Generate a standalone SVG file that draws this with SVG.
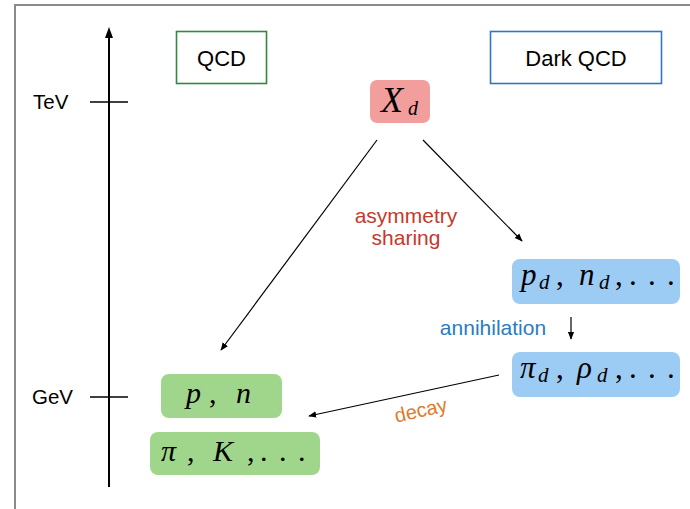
<svg xmlns="http://www.w3.org/2000/svg" width="690" height="509" viewBox="0 0 690 509">
<defs>
<marker id="ah" viewBox="0 0 10 10" refX="9" refY="5" markerWidth="8" markerHeight="8" orient="auto" markerUnits="userSpaceOnUse">
<path d="M0,1 L10,5 L0,9 Z" fill="#000"/>
</marker>
<style>
.sans{font-family:"Liberation Sans",Arial,sans-serif;}
.math{font-family:"Liberation Serif","Times New Roman",serif;font-style:italic;}
.mr{font-style:normal;}
.sub{font-size:21px;}
.conn{stroke:#000;stroke-width:1.2;fill:none;}
</style>
</defs>
<rect x="0" y="0" width="690" height="509" fill="#fff"/>
<path d="M15,509 L15,5 L690,5" fill="none" stroke="#8a8a8a" stroke-width="2"/>
<g id="axis">
<line x1="109" y1="487" x2="109" y2="30" stroke="#000" stroke-width="2"/>
<path d="M105,38 L109,27 L113,38 Z" fill="#000"/>
<line x1="90" y1="102" x2="128" y2="102" stroke="#000" stroke-width="1.6"/>
<line x1="90" y1="397" x2="128" y2="397" stroke="#000" stroke-width="1.6"/>
<text class="sans" x="33" y="109" font-size="20.5">TeV</text>
<text class="sans" x="32" y="404" font-size="20.5">GeV</text>
</g>
<g id="qcd">
<rect x="176.5" y="31.5" width="90" height="52" fill="#fff" stroke="#2e8b3e" stroke-width="1.6"/>
<text class="sans" x="221.5" y="66" font-size="22" text-anchor="middle">QCD</text>
</g>
<g id="darkqcd">
<rect x="490.5" y="31.5" width="171" height="52" fill="#fff" stroke="#2f78c0" stroke-width="1.6"/>
<text class="sans" x="576" y="66" font-size="22" text-anchor="middle">Dark QCD</text>
</g>
<g id="connectors">
<line class="conn" x1="377" y1="140" x2="221" y2="350" marker-end="url(#ah)"/>
<line class="conn" x1="423" y1="140" x2="522" y2="241" marker-end="url(#ah)"/>
<line class="conn" x1="571" y1="317" x2="571" y2="339" marker-end="url(#ah)"/>
<line class="conn" x1="499" y1="375" x2="309" y2="416" marker-end="url(#ah)"/>
</g>
<g id="xd">
<rect x="370" y="80" width="60" height="43" rx="7" fill="#f19e9c"/>
<text class="math" x="381" y="112" font-size="36">X</text>
<text class="math" x="408" y="115" font-size="20">d</text>
</g>
<g id="labels">
<text class="sans" x="406" y="223" font-size="21" fill="#c43a2c" text-anchor="middle">asymmetry</text>
<text class="sans" x="406" y="245" font-size="21" fill="#c43a2c" text-anchor="middle">sharing</text>
<text class="sans" x="493" y="335" font-size="21" fill="#2c7bc0" text-anchor="middle">annihilation</text>
<text class="sans" x="421" y="417" font-size="20" fill="#e07a2e" text-anchor="middle" transform="rotate(-12.7 421 411)">decay</text>
</g>
<g id="pdnd">
<rect x="512" y="259" width="168" height="45" rx="8" fill="#9ccbf3"/>
<text class="math" font-size="31"><tspan x="521" y="285">p</tspan><tspan class="sub" x="539" y="289">d</tspan><tspan class="mr" x="556" y="285">,</tspan><tspan x="579" y="285">n</tspan><tspan class="sub" x="599" y="289">d</tspan><tspan class="mr" x="615" y="285">,</tspan><tspan class="mr" x="629" y="285">.</tspan><tspan class="mr" x="648" y="285">.</tspan><tspan class="mr" x="667" y="285">.</tspan></text>
</g>
<g id="pidrhod">
<rect x="512" y="352" width="168" height="45" rx="8" fill="#9ccbf3"/>
<text class="math" font-size="31"><tspan x="520" y="378">π</tspan><tspan class="sub" x="538" y="382">d</tspan><tspan class="mr" x="556" y="378">,</tspan><tspan x="577" y="378">ρ</tspan><tspan class="sub" x="597" y="382">d</tspan><tspan class="mr" x="615" y="378">,</tspan><tspan class="mr" x="629" y="378">.</tspan><tspan class="mr" x="648" y="378">.</tspan><tspan class="mr" x="667" y="378">.</tspan></text>
</g>
<g id="pn">
<rect x="161" y="374" width="121" height="44" rx="8" fill="#9fd68b"/>
<text class="math" font-size="30"><tspan x="186" y="403">p</tspan><tspan class="mr" x="209" y="403">,</tspan><tspan x="236" y="403">n</tspan></text>
</g>
<g id="piK">
<rect x="150" y="432" width="170" height="43" rx="8" fill="#9fd68b"/>
<text class="math" font-size="30"><tspan x="161" y="461">π</tspan><tspan class="mr" x="187" y="461">,</tspan><tspan x="213" y="461">K</tspan><tspan class="mr" x="247" y="461">,</tspan><tspan class="mr" x="260" y="461">.</tspan><tspan class="mr" x="279" y="461">.</tspan><tspan class="mr" x="298" y="461">.</tspan></text>
</g>
</svg>
